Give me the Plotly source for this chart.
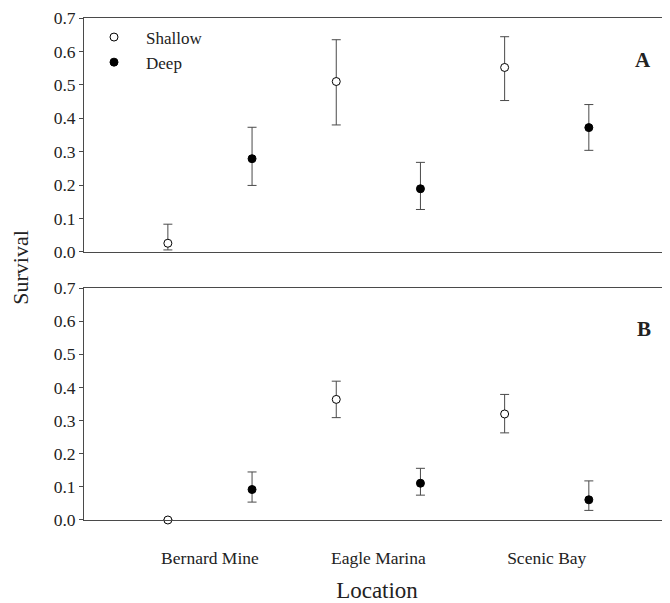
import plotly.graph_objects as go

locations = ["Bernard Mine", "Eagle Marina", "Scenic Bay"]

# Panel A
a_shallow = [0.026, 0.510, 0.552]
a_shallow_hi = [0.083, 0.635, 0.644]
a_shallow_lo = [0.006, 0.380, 0.453]
a_deep = [0.279, 0.189, 0.372]
a_deep_hi = [0.373, 0.268, 0.441]
a_deep_lo = [0.199, 0.127, 0.304]

# Panel B
b_shallow = [0.0, 0.364, 0.320]
b_shallow_hi = [0.0, 0.419, 0.379]
b_shallow_lo = [0.0, 0.309, 0.263]
b_deep = [0.092, 0.111, 0.061]
b_deep_hi = [0.145, 0.156, 0.118]
b_deep_lo = [0.054, 0.075, 0.029]

y_ticks = [0.0, 0.1, 0.2, 0.3, 0.4, 0.5, 0.6, 0.7]

FONT = "'Liberation Serif', 'Times New Roman', Times, serif"
LINE = "#4a4a4a"
idx = list(range(len(locations)))
off = 0.25

fig = go.Figure()

def add(vals, hi, lo, shift, filled, name, xa, ya, showlegend):
    fig.add_trace(go.Scatter(
        x=[i + shift for i in idx], y=vals, mode="markers", name=name,
        xaxis=xa, yaxis=ya, showlegend=showlegend, cliponaxis=False,
        marker=dict(size=8, color="black" if filled else "white",
                    line=dict(color="black", width=1), symbol="circle"),
        error_y=dict(type="data", symmetric=False,
                     array=[h - v for h, v in zip(hi, vals)],
                     arrayminus=[v - l for v, l in zip(vals, lo)],
                     color=LINE, thickness=1, width=4.5),
    ))

add(a_shallow, a_shallow_hi, a_shallow_lo, -off, False, "Shallow", "x", "y", True)
add(a_deep, a_deep_hi, a_deep_lo, off, True, "Deep", "x", "y", True)
add(b_shallow, b_shallow_hi, b_shallow_lo, -off, False, "Shallow", "x2", "y2", False)
add(b_deep, b_deep_hi, b_deep_lo, off, True, "Deep", "x2", "y2", False)

xr = [-0.748, 2.732]
yaxis_common = dict(range=[0, 0.7], tickvals=y_ticks, tickformat=".1f",
                    ticks="outside", ticklen=4, tickcolor=LINE,
                    showline=True, linecolor=LINE, linewidth=1,
                    showgrid=False, zeroline=False, mirror=False,
                    tickfont=dict(family=FONT, size=17.5, color="#222222"))
xaxis_common = dict(range=xr, showline=True, linecolor=LINE, linewidth=1,
                    mirror=True, showgrid=False, zeroline=False)

fig.update_layout(
    width=662, height=595,
    margin=dict(l=76, r=0, t=10, b=83),
    paper_bgcolor="white", plot_bgcolor="white",
    font=dict(family=FONT, color="#222222"),
    xaxis=dict(**xaxis_common, domain=[0, 1], anchor="y", showticklabels=False, ticks=""),
    yaxis=dict(**yaxis_common, domain=[0.534, 1], anchor="x"),
    xaxis2=dict(**xaxis_common, domain=[0, 1], anchor="y2",
                tickvals=idx, ticktext=locations, ticks="",
                ticklabelstandoff=22,
                tickfont=dict(family=FONT, size=17.5, color="#222222"),
                title=dict(text="Location", font=dict(family=FONT, size=23, color="#222222"),
                           standoff=14)),
    yaxis2=dict(**yaxis_common, domain=[0, 0.462], anchor="x2"),
    legend=dict(x=-0.0034, y=0.997, xanchor="left", yanchor="top",
                bgcolor="rgba(0,0,0,0)", font=dict(family=FONT, size=17, color="#222222"),
                itemwidth=54, tracegroupgap=0),
    showlegend=True,
    annotations=[
        dict(text="<b>A</b>", x=0.971, y=0.880, xref="x domain", yref="y domain",
             showarrow=False, font=dict(family=FONT, size=21, color="#222222")),
        dict(text="<b>B</b>", x=0.971, y=0.884, xref="x2 domain", yref="y2 domain",
             showarrow=False, font=dict(family=FONT, size=21, color="#222222")),
        dict(text="Survival", x=-0.108, y=0.504, xref="paper", yref="paper", showarrow=False,
             textangle=-90, xanchor="center", yanchor="middle",
             font=dict(family=FONT, size=22, color="#222222")),
    ],
)

fig.write_html("out.html")
